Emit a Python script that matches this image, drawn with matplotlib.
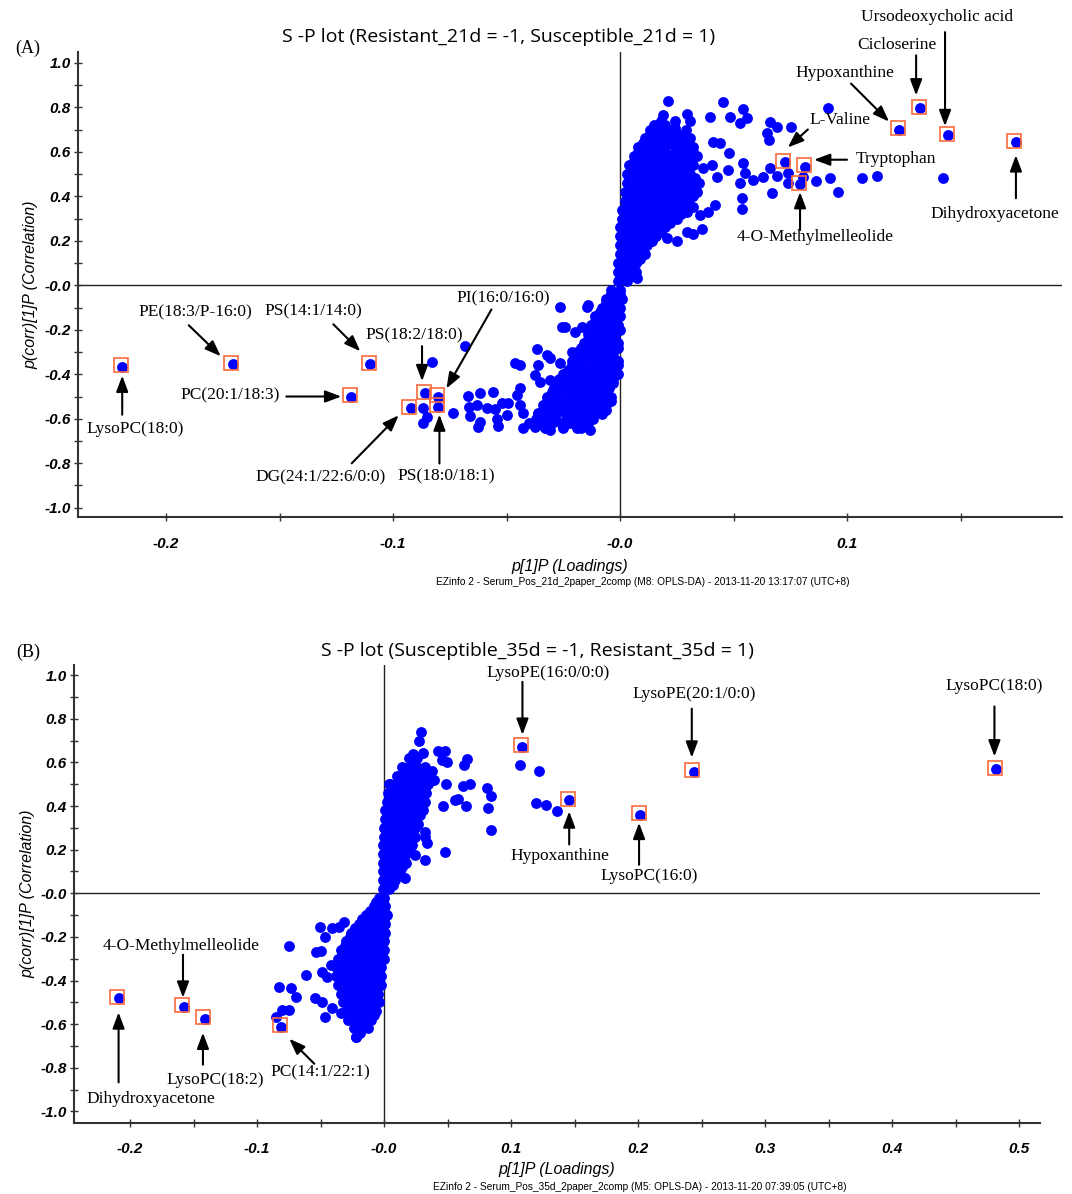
import numpy as np
import matplotlib
matplotlib.use("Agg")
import matplotlib.pyplot as plt
from matplotlib.ticker import MultipleLocator, FuncFormatter
from matplotlib.transforms import offset_copy

# tick labels and axis titles are bold italic sans; everything else overrides this
plt.rcParams['font.family'] = 'Liberation Sans'
plt.rcParams['font.weight'] = 'bold'
plt.rcParams['font.style'] = 'italic'

W, H = 1072, 1194

# ---------------- (A) Resistant_21d vs Susceptible_21d ----------------
# dense part of the S-curve, positive side: (p(corr), [p[1] values])
a_upper_rows = [
    (0.02, [-0.001, 0.003]),
    (0.04, [0.001, 0.005]),
    (0.06, [-0.001, 0.003, 0.007]),
    (0.08, [0.001, 0.005]),
    (0.10, [-0.001, 0.003, 0.007]),
    (0.12, [0.001, 0.005, 0.009]),
    (0.14, [0.000, 0.004, 0.008, 0.011]),
    (0.16, [0.002, 0.006, 0.010]),
    (0.18, [0.000, 0.004, 0.008, 0.012]),
    (0.20, [0.002, 0.006, 0.010, 0.014]),
    (0.22, [0.000, 0.004, 0.008, 0.012, 0.016]),
    (0.24, [0.002, 0.006, 0.010, 0.014, 0.018]),
    (0.26, [0.000, 0.004, 0.008, 0.012, 0.016, 0.020]),
    (0.28, [0.002, 0.006, 0.010, 0.014, 0.018, 0.022]),
    (0.30, [0.001, 0.005, 0.009, 0.013, 0.017, 0.021, 0.025]),
    (0.32, [0.003, 0.007, 0.011, 0.015, 0.019, 0.023, 0.027]),
    (0.34, [0.001, 0.005, 0.009, 0.013, 0.017, 0.021, 0.025, 0.029]),
    (0.36, [0.003, 0.007, 0.011, 0.015, 0.019, 0.023, 0.027]),
    (0.38, [0.002, 0.006, 0.010, 0.014, 0.018, 0.022, 0.026, 0.030]),
    (0.40, [0.004, 0.008, 0.012, 0.016, 0.020, 0.024, 0.028, 0.032]),
    (0.42, [0.002, 0.006, 0.010, 0.014, 0.018, 0.022, 0.026, 0.030, 0.034]),
    (0.44, [0.004, 0.008, 0.012, 0.016, 0.020, 0.024, 0.028, 0.032]),
    (0.46, [0.003, 0.007, 0.011, 0.015, 0.019, 0.023, 0.027, 0.031, 0.035]),
    (0.48, [0.005, 0.009, 0.013, 0.017, 0.021, 0.025, 0.029, 0.033]),
    (0.50, [0.003, 0.007, 0.011, 0.015, 0.019, 0.023, 0.027, 0.031]),
    (0.52, [0.005, 0.009, 0.013, 0.017, 0.021, 0.025, 0.029]),
    (0.54, [0.004, 0.008, 0.012, 0.016, 0.020, 0.024, 0.028, 0.032]),
    (0.56, [0.006, 0.010, 0.014, 0.018, 0.022, 0.026, 0.030]),
    (0.58, [0.006, 0.010, 0.014, 0.018, 0.022, 0.026, 0.030, 0.034]),
    (0.60, [0.008, 0.012, 0.016, 0.020, 0.024, 0.028, 0.032]),
    (0.62, [0.008, 0.012, 0.016, 0.020, 0.024, 0.028, 0.032]),
    (0.64, [0.010, 0.014, 0.018, 0.022, 0.026, 0.030]),
    (0.66, [0.011, 0.015, 0.019, 0.023, 0.027, 0.031]),
    (0.68, [0.013, 0.017, 0.021, 0.025]),
    (0.70, [0.013, 0.017, 0.021, 0.029]),
    (0.72, [0.015, 0.020]),
    (0.74, [0.018, 0.024, 0.031]),
]
# dense part of the S-curve, negative side
a_lower_rows = [
    (-0.02, [-0.004, 0.000]),
    (-0.04, [-0.004, 0.000]),
    (-0.06, [-0.006, -0.002, 0.001]),
    (-0.08, [-0.006, -0.002]),
    (-0.10, [-0.008, -0.004, 0.000]),
    (-0.12, [-0.009, -0.005, -0.001]),
    (-0.14, [-0.011, -0.007, -0.003, 0.000]),
    (-0.16, [-0.011, -0.007, -0.003]),
    (-0.18, [-0.013, -0.009, -0.005, -0.001]),
    (-0.20, [-0.012, -0.008, -0.004, 0.000]),
    (-0.22, [-0.014, -0.010, -0.006, -0.002]),
    (-0.24, [-0.014, -0.010, -0.006, -0.002]),
    (-0.26, [-0.016, -0.012, -0.008, -0.004, -0.001]),
    (-0.28, [-0.017, -0.013, -0.009, -0.005, -0.001]),
    (-0.30, [-0.019, -0.015, -0.011, -0.007, -0.003]),
    (-0.32, [-0.019, -0.015, -0.011, -0.007, -0.003]),
    (-0.34, [-0.021, -0.017, -0.013, -0.009, -0.005, -0.001]),
    (-0.36, [-0.021, -0.017, -0.013, -0.009, -0.005, -0.001]),
    (-0.38, [-0.023, -0.019, -0.015, -0.011, -0.007, -0.003]),
    (-0.40, [-0.025, -0.021, -0.017, -0.013, -0.009, -0.005, -0.001]),
    (-0.42, [-0.027, -0.023, -0.019, -0.015, -0.011, -0.007, -0.003]),
    (-0.44, [-0.027, -0.023, -0.019, -0.015, -0.011, -0.007, -0.003]),
    (-0.46, [-0.029, -0.025, -0.021, -0.017, -0.013, -0.009, -0.005]),
    (-0.48, [-0.030, -0.026, -0.022, -0.018, -0.014, -0.010, -0.006]),
    (-0.50, [-0.032, -0.028, -0.024, -0.020, -0.016, -0.012, -0.008, -0.004]),
    (-0.52, [-0.032, -0.028, -0.024, -0.020, -0.016, -0.012, -0.008, -0.004]),
    (-0.54, [-0.034, -0.030, -0.026, -0.022, -0.018, -0.014, -0.010, -0.006]),
    (-0.56, [-0.034, -0.030, -0.026, -0.022, -0.018, -0.014, -0.010, -0.006]),
    (-0.58, [-0.036, -0.032, -0.028, -0.024, -0.020, -0.016, -0.012, -0.008]),
    (-0.60, [-0.037, -0.033, -0.029, -0.024, -0.020, -0.016, -0.012]),
    (-0.62, [-0.040, -0.035, -0.030, -0.026, -0.022, -0.018, -0.014]),
    (-0.64, [-0.033, -0.025, -0.017]),
]
# scattered variables outside the dense band
a_scatter = [
    (0.0213, 0.830), (0.0455, 0.825), (0.0540, 0.791), (0.0558, 0.751), (0.0529, 0.728),
    (0.0485, 0.758), (0.0396, 0.758), (0.0294, 0.770), (0.0191, 0.766), (0.0660, 0.736),
    (0.0690, 0.710), (0.0646, 0.686), (0.0658, 0.653), (0.0752, 0.710), (0.0915, 0.798),
    (0.0482, 0.596), (0.0440, 0.638), (0.0411, 0.646), (0.0543, 0.548), (0.0477, 0.518),
    (0.0404, 0.541), (0.0367, 0.526), (0.0426, 0.488), (0.0529, 0.458), (0.0551, 0.503),
    (0.0587, 0.473), (0.0631, 0.485), (0.0660, 0.526), (0.0690, 0.491), (0.0742, 0.503),
    (0.0742, 0.458), (0.0808, 0.488), (0.0863, 0.469), (0.0925, 0.484), (0.0959, 0.418),
    (0.0668, 0.413), (0.0536, 0.391), (0.0539, 0.342), (0.1065, 0.484), (0.1131, 0.491),
    (0.0419, 0.361), (0.0389, 0.331), (0.0352, 0.316), (0.0294, 0.331), (0.0323, 0.354),
    (0.0360, 0.252), (0.0294, 0.241), (0.0323, 0.229), (0.0250, 0.201), (0.0206, 0.211),
    (0.0073, 0.031), (0.1423, 0.482), (0.0190, 0.700), (0.0242, 0.706), (0.0160, 0.698),
    (-0.0264, -0.096), (-0.0140, -0.088), (-0.0257, -0.186), (-0.0242, -0.186),
    (-0.0198, -0.208), (-0.0169, -0.186), (-0.0147, -0.096), (-0.0213, -0.298),
    (-0.0367, -0.288), (-0.0323, -0.313), (-0.0308, -0.328), (-0.0360, -0.358),
    (-0.0264, -0.351), (-0.0374, -0.403), (-0.0352, -0.437), (-0.0308, -0.425),
    (-0.0294, -0.470), (-0.0463, -0.351), (-0.0440, -0.358), (-0.0455, -0.493),
    (-0.0440, -0.463), (-0.0440, -0.538), (-0.0426, -0.575), (-0.0426, -0.643),
    (-0.0374, -0.635), (-0.0360, -0.575), (-0.0521, -0.530), (-0.0492, -0.527),
    (-0.0499, -0.583), (-0.0543, -0.602), (-0.0536, -0.631), (-0.0668, -0.497),
    (-0.0617, -0.482), (-0.0558, -0.478), (-0.0664, -0.545), (-0.0631, -0.538),
    (-0.0587, -0.553), (-0.0551, -0.557), (-0.0660, -0.587), (-0.0617, -0.613),
    (-0.0624, -0.635), (-0.0734, -0.572), (-0.0308, -0.650), (-0.0250, -0.635),
    (-0.0191, -0.643), (-0.0132, -0.650), (-0.0683, -0.273), (-0.0830, -0.343),
    (-0.0866, -0.553), (-0.0852, -0.590), (-0.0866, -0.620),
]
a_names = ['LysoPC(18:0)', 'PE(18:3/P-16:0)', 'PS(14:1/14:0)', 'PC(20:1/18:3)',
           'DG(24:1/22:6/0:0)', 'PS(18:2/18:0)', 'PI(16:0/16:0)', 'PS(18:0/18:1)',
           'L-Valine', 'Tryptophan', '4-O-Methylmelleolide', 'Hypoxanthine',
           'Cicloserine', 'Ursodeoxycholic acid', 'Dihydroxyacetone']
a_loadings = [-0.2193, -0.1706, -0.1100, -0.1184, -0.0922, -0.0859, -0.0800, -0.0800,
              0.0726, 0.0815, 0.0793, 0.1229, 0.1322, 0.1445, 0.1744]
a_corr = [-0.366, -0.355, -0.355, -0.500, -0.553, -0.485, -0.500, -0.545,
          0.552, 0.533, 0.455, 0.700, 0.795, 0.675, 0.643]

# ---------------- (B) Susceptible_35d vs Resistant_35d ----------------
b_upper_rows = [
    (0.02, [-0.001, 0.004]),
    (0.04, [0.002, 0.007]),
    (0.06, [-0.001, 0.004, 0.009]),
    (0.08, [0.002, 0.007]),
    (0.10, [-0.001, 0.005, 0.011]),
    (0.12, [0.002, 0.008, 0.014]),
    (0.14, [-0.001, 0.005, 0.011, 0.017]),
    (0.16, [0.002, 0.008, 0.014]),
    (0.18, [-0.001, 0.005, 0.011, 0.017]),
    (0.20, [0.002, 0.008, 0.014, 0.020]),
    (0.22, [-0.001, 0.005, 0.011, 0.017, 0.022]),
    (0.24, [0.003, 0.009, 0.015, 0.021]),
    (0.26, [0.000, 0.006, 0.012, 0.018, 0.024]),
    (0.28, [0.003, 0.009, 0.015, 0.021]),
    (0.30, [0.000, 0.006, 0.012, 0.018, 0.024]),
    (0.32, [0.003, 0.009, 0.015, 0.021, 0.027]),
    (0.34, [0.001, 0.007, 0.013, 0.019, 0.025]),
    (0.36, [0.004, 0.010, 0.016, 0.022, 0.028]),
    (0.38, [0.001, 0.007, 0.013, 0.019, 0.025, 0.031]),
    (0.40, [0.004, 0.010, 0.016, 0.022, 0.028]),
    (0.42, [0.002, 0.008, 0.014, 0.020, 0.026, 0.032]),
    (0.44, [0.005, 0.011, 0.017, 0.023, 0.029]),
    (0.46, [0.003, 0.009, 0.015, 0.021, 0.027, 0.033]),
    (0.48, [0.008, 0.014, 0.020, 0.026, 0.032]),
    (0.50, [0.005, 0.011, 0.017, 0.023, 0.029, 0.035]),
    (0.52, [0.013, 0.019, 0.025, 0.031]),
    (0.54, [0.010, 0.016, 0.022, 0.028, 0.034]),
    (0.56, [0.017, 0.023, 0.029]),
    (0.58, [0.014, 0.020, 0.026, 0.032]),
    (0.60, [0.023]),
    (0.62, [0.020, 0.026]),
]
b_lower_rows = [
    (-0.02, [-0.004, 0.000]),
    (-0.04, [-0.006, -0.001]),
    (-0.06, [-0.008, -0.003, 0.001]),
    (-0.08, [-0.011, -0.005, 0.000]),
    (-0.10, [-0.014, -0.008, -0.002, 0.002]),
    (-0.12, [-0.017, -0.011, -0.005, 0.000]),
    (-0.14, [-0.020, -0.014, -0.008, -0.002, 0.001]),
    (-0.16, [-0.023, -0.017, -0.011, -0.005]),
    (-0.18, [-0.026, -0.020, -0.014, -0.008, -0.002, 0.001]),
    (-0.20, [-0.027, -0.021, -0.015, -0.009, -0.003]),
    (-0.22, [-0.030, -0.024, -0.018, -0.012, -0.006, 0.000]),
    (-0.24, [-0.031, -0.025, -0.019, -0.013, -0.007, -0.002]),
    (-0.26, [-0.034, -0.028, -0.022, -0.016, -0.010, -0.004, 0.000]),
    (-0.28, [-0.033, -0.027, -0.019, -0.013, -0.007, -0.002]),
    (-0.30, [-0.036, -0.030, -0.024, -0.018, -0.012, -0.006, 0.000]),
    (-0.32, [-0.033, -0.027, -0.021, -0.015, -0.009, -0.003]),
    (-0.34, [-0.038, -0.032, -0.026, -0.020, -0.014, -0.008, -0.002]),
    (-0.36, [-0.035, -0.029, -0.023, -0.017, -0.011, -0.005]),
    (-0.38, [-0.038, -0.032, -0.026, -0.020, -0.014, -0.008, -0.002]),
    (-0.40, [-0.033, -0.027, -0.021, -0.015, -0.009, -0.004]),
    (-0.42, [-0.036, -0.030, -0.024, -0.018, -0.012, -0.006, -0.002]),
    (-0.44, [-0.031, -0.025, -0.019, -0.013, -0.007]),
    (-0.46, [-0.034, -0.028, -0.022, -0.016, -0.010, -0.005]),
    (-0.48, [-0.029, -0.023, -0.017, -0.011, -0.006]),
    (-0.50, [-0.032, -0.026, -0.020, -0.014, -0.008, -0.004]),
    (-0.52, [-0.027, -0.021, -0.015, -0.009]),
    (-0.54, [-0.030, -0.024, -0.018, -0.012, -0.006]),
    (-0.56, [-0.025, -0.019, -0.013, -0.008]),
    (-0.58, [-0.028, -0.022, -0.016, -0.010]),
    (-0.60, [-0.021, -0.015]),
    (-0.62, [-0.024, -0.018, -0.013]),
    (-0.64, [-0.019]),
    (-0.66, [-0.022]),
]
b_scatter = [
    (0.0289, 0.739), (0.0278, 0.699), (0.0231, 0.639), (0.0310, 0.645), (0.0428, 0.654),
    (0.0480, 0.654), (0.0493, 0.604), (0.0454, 0.612), (0.0651, 0.616), (0.0633, 0.589),
    (0.0677, 0.502), (0.0619, 0.492), (0.0486, 0.502), (0.0559, 0.428), (0.0585, 0.431),
    (0.0643, 0.401), (0.0467, 0.401), (0.0814, 0.482), (0.0840, 0.448), (0.0822, 0.390),
    (0.0843, 0.291), (0.0480, 0.191), (0.0323, 0.283), (0.0323, 0.260), (0.0336, 0.229),
    (0.0042, 0.502), (0.0323, 0.153), (0.0244, 0.176), (0.0165, 0.069), (0.0126, 0.092),
    (0.1071, 0.589), (0.1223, 0.563), (0.1197, 0.413), (0.1276, 0.405), (0.1359, 0.379),
    (0.0380, 0.560), (0.0390, 0.520),
    (-0.0751, -0.242), (-0.0616, -0.375), (-0.0828, -0.431), (-0.0732, -0.436),
    (-0.0692, -0.474), (-0.0854, -0.566), (-0.0800, -0.535), (-0.0745, -0.535),
    (-0.0502, -0.153), (-0.0461, -0.202), (-0.0535, -0.268), (-0.0500, -0.263),
    (-0.0488, -0.360), (-0.0449, -0.382), (-0.0543, -0.482), (-0.0488, -0.497),
    (-0.0461, -0.566), (-0.0407, -0.528), (-0.0339, -0.550), (-0.0217, -0.658),
    (-0.0177, -0.619), (-0.0407, -0.160), (-0.0353, -0.153), (-0.0312, -0.130),
    (-0.0421, -0.330),
]
b_names = ['LysoPE(16:0/0:0)', 'Hypoxanthine', 'LysoPC(16:0)', 'LysoPE(20:1/0:0)',
           'LysoPC(18:0)', 'Dihydroxyacetone', '4-O-Methylmelleolide', 'LysoPC(18:2)',
           'PC(14:1/22:1)']
b_loadings = [0.1090, 0.1458, 0.2016, 0.2439, 0.4822, -0.2090, -0.1575, -0.1410, -0.0809]
b_corr = [0.672, 0.426, 0.360, 0.558, 0.568, -0.482, -0.520, -0.575, -0.612]

# label placement, in pixels from the marked point (y up):
# text centre, arrow tail, arrow tip
a_layout = {
    'LysoPC(18:0)':         ((13, -62), (0, -48), (0, -9)),
    'PE(18:3/P-16:0)':      ((-37, 52), (-44, 39), (-12, 8)),
    'PS(14:1/14:0)':        ((-57, 53), (-37, 40), (-10, 13)),
    'PC(20:1/18:3)':        ((-121, 1), (-65, 0), (-10, 0)),
    'DG(24:1/22:6/0:0)':    ((-90, -69), (-59, -55), (-12, -7)),
    'PS(18:2/18:0)':        ((-11, 58), (-3, 47), (-3, 12)),
    'PI(16:0/16:0)':        ((65, 98), (53, 87), (8, 8)),
    'PS(18:0/18:1)':        ((8, -70), (1, -57), (1, -8)),
    'L-Valine':             ((55, 42), (23, 33), (3, 15)),
    'Tryptophan':           ((91, 8), (42, 7), (9, 7)),
    '4-O-Methylmelleolide': ((15, -53), (0, -46), (0, -8)),
    'Hypoxanthine':         ((-54, 57), (-48, 46), (-10, 8)),
    'Cicloserine':          ((-23, 63), (-4, 53), (-4, 13)),
    'Ursodeoxycholic acid': ((-11, 118), (-3, 103), (-3, 9)),
    'Dihydroxyacetone':     ((-21, -72), (0, -56), (0, -13)),
}
b_layout = {
    'LysoPE(16:0/0:0)':     ((26, 74), (0, 65), (0, 12)),
    'Hypoxanthine':         ((-9, -56), (0, -44), (0, -11)),
    'LysoPC(16:0)':         ((9, -61), (-1, -50), (-1, -8)),
    'LysoPE(20:1/0:0)':     ((0, 78), (-2, 63), (-2, 14)),
    'LysoPC(18:0)':         ((-2, 83), (-2, 63), (-2, 13)),
    'Dihydroxyacetone':     ((32, -101), (0, -84), (0, -14)),
    '4-O-Methylmelleolide': ((-3, 61), (-1, 52), (-1, 9)),
    'LysoPC(18:2)':         ((10, -61), (-2, -46), (-2, -14)),
    'PC(14:1/22:1)':        ((39, -46), (33, -37), (8, -12)),
}

BLUE = '#0000FF'
BOX = '#FA6A3C'
SERIF = dict(family='Liberation Serif', style='normal', weight='normal')


def rows_to_xy(rows):
    xs, ys = [], []
    for y, xrow in rows:
        xs += xrow
        ys += [y] * len(xrow)
    return xs, ys


def fig_text(x, y, s, **kw):
    fig.text(x / W, 1 - y / H, s, **kw)


def tick_fmt(v, pos):
    if abs(v) < 1e-9:
        return '-0.0'
    return '%.1f' % v


def draw_panel(ax, groups, names, hx, hy, layout, xlim, ylim, xlab_y):
    ax.set_xlim(*xlim)
    ax.set_ylim(*ylim)
    for side in ('top', 'right'):
        ax.spines[side].set_visible(False)
    for side in ('left', 'bottom'):
        ax.spines[side].set_linewidth(1.5)
        ax.spines[side].set_color('#333333')
    ax.axhline(0, color='#222222', lw=1.0, zorder=1)
    ax.axvline(0, color='#222222', lw=1.0, zorder=1)

    ax.xaxis.set_major_locator(MultipleLocator(0.1))
    ax.xaxis.set_minor_locator(MultipleLocator(0.05))
    ax.yaxis.set_major_locator(MultipleLocator(0.2))
    ax.yaxis.set_minor_locator(MultipleLocator(0.1))
    ax.xaxis.set_major_formatter(FuncFormatter(tick_fmt))
    ax.yaxis.set_major_formatter(FuncFormatter(tick_fmt))
    ax.tick_params(which='both', direction='inout', length=6, width=1,
                   color='#333333', labelsize=11)
    ax.tick_params(axis='x', pad=11)
    ax.tick_params(axis='y', pad=2)

    for gx, gy in groups:
        ax.plot(gx, gy, 'o', ls='none', ms=7.8, mfc=BLUE, mec=BLUE, mew=0, zorder=3)
    ax.plot(hx, hy, 'o', ls='none', ms=7.8, mfc=BLUE, mec=BLUE, mew=0, zorder=3)
    box_tr = offset_copy(ax.transData, fig=fig, x=-1.5, y=1.5, units='dots')
    ax.plot(hx, hy, 's', ls='none', ms=10.5, mfc='none', mec=BOX, mew=1.2,
            transform=box_tr, zorder=4)

    for name, x, y in zip(names, hx, hy):
        (tx, ty), (ax0, ay0), (ax1, ay1) = layout[name]
        ax.annotate(name, xy=(x, y), xytext=(tx, ty), textcoords='offset pixels',
                    ha='center', va='center', fontsize=12.5, zorder=5, **SERIF)
        tip_tr = offset_copy(ax.transData, fig=fig, x=ax1, y=ay1, units='dots')
        ax.annotate('', xy=(x, y), xycoords=tip_tr,
                    xytext=(ax0 - ax1, ay0 - ay1), textcoords='offset pixels',
                    arrowprops=dict(arrowstyle='-|>,head_length=0.8,head_width=0.3',
                                    color='black', lw=1.5, shrinkA=0, shrinkB=0),
                    fontsize=12, zorder=5)

    ax.set_ylabel('p(corr)[1]P (Correlation)', fontsize=11.5)
    ax.yaxis.set_label_coords(-0.040, 0.5)
    ax.set_xlabel('p[1]P (Loadings)', fontsize=11.5)
    ax.xaxis.set_label_coords(0.5, xlab_y)


fig = plt.figure(figsize=(W / 100, H / 100), dpi=100)

# panel A: x pixels 77..1062, y pixels 52..517
ax_a = fig.add_axes([77.5 / W, 1 - 517.3 / H, (1062 - 77.5) / W, (517.3 - 51.7) / H])
draw_panel(ax_a, [rows_to_xy(a_upper_rows), rows_to_xy(a_lower_rows),
                  tuple(zip(*a_scatter))],
           a_names, a_loadings, a_corr, a_layout,
           (-0.239, 0.1947), (-1.043, 1.05), -0.09)

# panel B: x pixels 74..1040, y pixels 665..1123
ax_b = fig.add_axes([74 / W, 1 - 1122.7 / H, (1040 - 74) / W, (1122.7 - 665) / H])
draw_panel(ax_b, [rows_to_xy(b_upper_rows), rows_to_xy(b_lower_rows),
                  tuple(zip(*b_scatter))],
           b_names, b_loadings, b_corr, b_layout,
           (-0.2441, 0.5165), (-1.052, 1.047), -0.086)

TITLE = dict(family='Open Sans', style='normal', weight='normal', fontsize=14,
             ha='center', va='center')
fig_text(499, 37, 'S -P lot (Resistant_21d = -1, Susceptible_21d = 1)', **TITLE)
fig_text(537, 651, 'S -P lot (Susceptible_35d = -1, Resistant_35d = 1)', **TITLE)
fig_text(28, 48, '(A)', fontsize=13, ha='center', va='center', **SERIF)
fig_text(28, 652, '(B)', fontsize=13, ha='center', va='center', **SERIF)

FOOT = dict(family='Liberation Sans', style='normal', weight='normal', fontsize=7.3,
            ha='center', va='center')
fig_text(643, 582, 'EZinfo 2 - Serum_Pos_21d_2paper_2comp (M8: OPLS-DA) - 2013-11-20 13:17:07 (UTC+8)', **FOOT)
fig_text(640, 1187, 'EZinfo 2 - Serum_Pos_35d_2paper_2comp (M5: OPLS-DA) - 2013-11-20 07:39:05 (UTC+8)', **FOOT)

fig.savefig('out.png', dpi=100, facecolor='white')
